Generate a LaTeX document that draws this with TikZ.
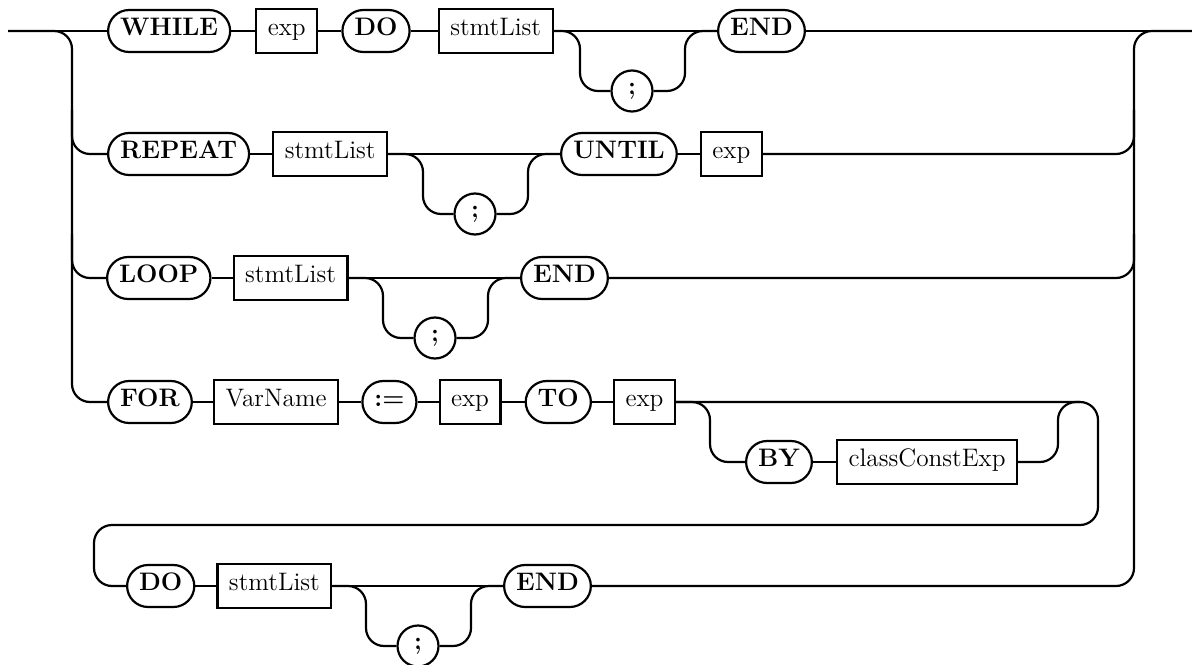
\documentclass[tikz,border=0pt]{standalone}
\usetikzlibrary{positioning}

\begin{document}
\begin{tikzpicture}[x=0.2mm, y=-0.2mm,
  kwnode/.style={draw, line width=1.25pt, rounded corners=4.2mm, minimum height=8.4mm, inner xsep=2.4mm, inner ysep=0pt, text height=1.6ex, text depth=0.3ex, font=\Large\bfseries},
  ntnode/.style={draw, line width=1.25pt, minimum height=8.8mm, inner xsep=2.3mm, inner ysep=0pt, text height=1.6ex, text depth=0.3ex, font=\Large},
  semnode/.style={draw, line width=1.25pt, circle, minimum size=8.2mm, inner sep=0pt, font=\Large\bfseries},
  rail/.style={line width=1.25pt, rounded corners=3.6mm}
]
\useasboundingbox (0,0) rectangle (1192,665);

% WHILE row
\node[kwnode, anchor=west] (while) at (107,31) {WHILE};
\node[ntnode, right=4.8mm of while] (exp1) {exp};
\node[kwnode, right=4.6mm of exp1] (do1) {DO};
\node[ntnode, right=5.4mm of do1] (stmt1) {stmtList};
\node[semnode] (semi1) at (632,91) {;};
\node[kwnode, anchor=west] (end1) at (717,31) {END};

% REPEAT row
\node[kwnode, anchor=west] (rep) at (107,154) {REPEAT};
\node[ntnode, right=4.4mm of rep] (stmt2) {stmtList};
\node[semnode] (semi2) at (475,214) {;};
\node[kwnode, anchor=west] (until) at (560,154) {UNTIL};
\node[ntnode, right=4.4mm of until] (exp2) {exp};

% LOOP row
\node[kwnode, anchor=west] (loop) at (106,278) {LOOP};
\node[ntnode, right=4.2mm of loop] (stmt3) {stmtList};
\node[semnode] (semi3) at (435,338) {;};
\node[kwnode, anchor=west] (end3) at (520,278) {END};

% FOR row
\node[kwnode, anchor=west] (for) at (107,402) {FOR};
\node[ntnode, right=4mm of for] (var) {VarName};
\node[kwnode, right=4.4mm of var] (assign) {:=};
\node[ntnode, right=4.2mm of assign] (exp4a) {exp};
\node[kwnode, right=4.6mm of exp4a] (to) {TO};
\node[ntnode, right=4.2mm of to] (exp4b) {exp};
\node[kwnode, anchor=west] (by) at (745,462) {BY};
\node[ntnode, right=4.6mm of by] (cce) {classConstExp};
\node[kwnode, anchor=west] (do5) at (126,586) {DO};
\node[ntnode, right=4.2mm of do5] (stmt5) {stmtList};
\node[semnode] (semi5) at (418,646) {;};
\node[kwnode, anchor=west] (end5) at (503,586) {END};

% rail ends and turns
\coordinate (start) at (8,31);
\coordinate (stop) at (1192,31);
\coordinate (lbot) at (72,402);
\coordinate (lrail2) at (72,110);
\coordinate (lrail3) at (72,234);
\coordinate (rtop) at (1134,31);
\coordinate (rrail2) at (1134,110);
\coordinate (rrail3) at (1134,234);
\coordinate (dn1) at (580,91);
\coordinate (up1) at (685,31);
\coordinate (dn2) at (423,214);
\coordinate (up2) at (528,154);
\coordinate (dn3) at (383,338);
\coordinate (up3) at (488,278);
\coordinate (dn5) at (366,646);
\coordinate (up5) at (471,586);
\coordinate (bydn) at (710,462);
\coordinate (byup) at (1058,402);
\coordinate (byjoin) at (1080,402);
\coordinate (loopr) at (1098,525);
\coordinate (retl) at (94,586);

\draw[rail] (start) -- (while.west);
\draw[rail] (start) -| (lbot) -- (for.west);
\draw[rail] (lrail2) |- (rep.west);
\draw[rail] (lrail3) |- (loop.west);
\draw[rail] (end1.east) -- (stop);
\draw[rail] (end5.east) -| (rtop) -- (stop);
\draw[rail] (exp2.east) -| (rrail2);
\draw[rail] (end3.east) -| (rrail3);

\draw[rail] (while) -- (exp1);
\draw[rail] (exp1) -- (do1);
\draw[rail] (do1) -- (stmt1);
\draw[rail] (stmt1) -- (end1);
\draw[rail] (stmt1.east) -| (dn1) -- (semi1.west);
\draw[rail] (semi1.east) -| (up1) -- (end1.west);

\draw[rail] (rep) -- (stmt2);
\draw[rail] (stmt2) -- (until);
\draw[rail] (stmt2.east) -| (dn2) -- (semi2.west);
\draw[rail] (semi2.east) -| (up2) -- (until.west);
\draw[rail] (until) -- (exp2);

\draw[rail] (loop) -- (stmt3);
\draw[rail] (stmt3) -- (end3);
\draw[rail] (stmt3.east) -| (dn3) -- (semi3.west);
\draw[rail] (semi3.east) -| (up3) -- (end3.west);

\draw[rail] (for) -- (var);
\draw[rail] (var) -- (assign);
\draw[rail] (assign) -- (exp4a);
\draw[rail] (exp4a) -- (to);
\draw[rail] (to) -- (exp4b);
\draw[rail] (exp4b.east) -| (loopr) -| (retl) -- (do5.west);
\draw[rail] (exp4b.east) -| (bydn) -- (by.west);
\draw[rail] (by) -- (cce);
\draw[rail] (cce.east) -| (byup) -- (byjoin);

\draw[rail] (do5) -- (stmt5);
\draw[rail] (stmt5) -- (end5);
\draw[rail] (stmt5.east) -| (dn5) -- (semi5.west);
\draw[rail] (semi5.east) -| (up5) -- (end5.west);
\end{tikzpicture}
\end{document}
